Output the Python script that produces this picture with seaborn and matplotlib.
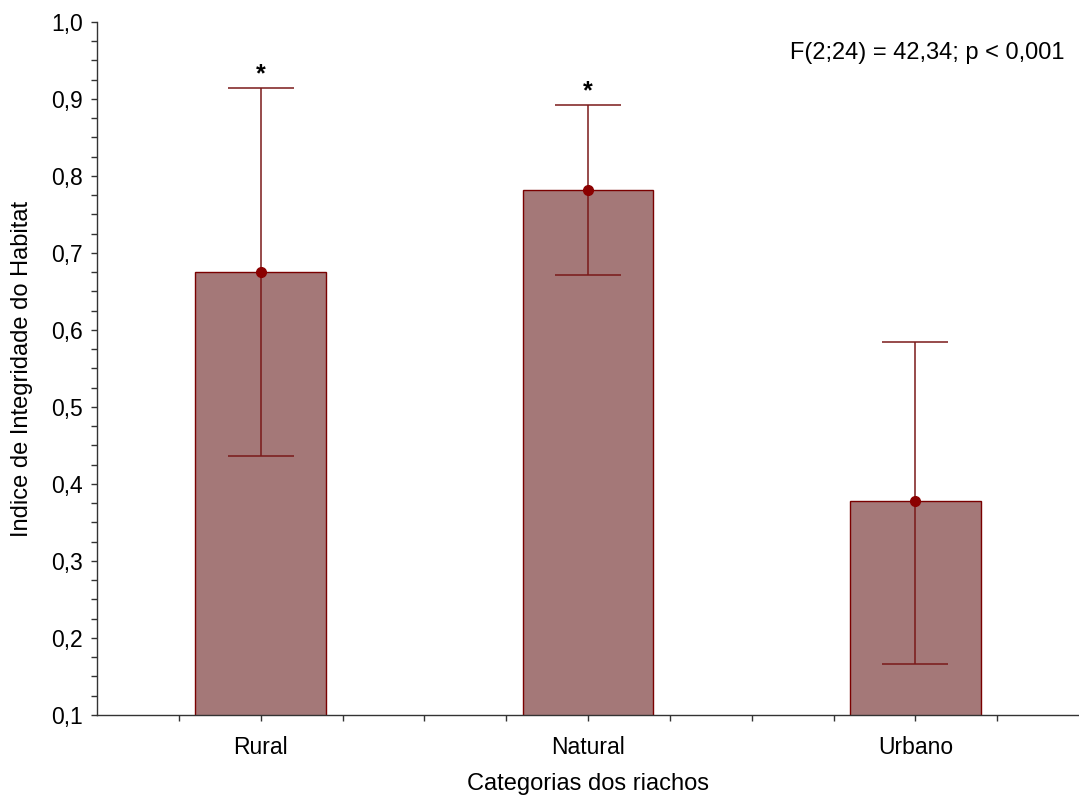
import numpy as np
import pandas as pd
import matplotlib
matplotlib.use('Agg')
import matplotlib.pyplot as plt
import seaborn as sns

# dados
categorias = ['Rural', 'Natural', 'Urbano']
medias = [0.675, 0.782, 0.378]
limite_inf = [0.437, 0.671, 0.166]
limite_sup = [0.914, 0.892, 0.584]
asterisco = ['*', '*', '']
texto_anova = 'F(2;24) = 42,34; p < 0,001'

sns.set_style('ticks')
plt.rcParams['font.family'] = ['Liberation Sans', 'DejaVu Sans']
plt.rcParams['text.color'] = 'black'
plt.rcParams['axes.labelcolor'] = 'black'

df = pd.DataFrame({'categoria': categorias, 'media': medias})

fig = plt.figure(figsize=(10.79, 7.97), dpi=100)
ax = fig.add_axes([0.0899, 0.1029, 0.9101, 0.8695])

sns.barplot(data=df, x='categoria', y='media', order=categorias, ax=ax,
            color='#a47878', width=0.4, saturation=1,
            edgecolor='#7a0000', linewidth=1.0)

# barras de erro (assimetricas)
pos = np.arange(len(categorias))
err = [np.array(medias) - np.array(limite_inf), np.array(limite_sup) - np.array(medias)]
ax.errorbar(pos, medias, yerr=err, fmt='o', color='#8b0000', ecolor='#7a1a1a',
            elinewidth=1.1, capsize=24, capthick=1.1, markersize=7, zorder=5)

for i, s in enumerate(asterisco):
    if s:
        ax.text(pos[i], limite_sup[i] + 0.002, s, ha='center', va='bottom',
                fontsize=18, fontweight='bold')

ax.text(0.985, 0.955, texto_anova, transform=ax.transAxes, ha='right', va='center', fontsize=17)

ax.set_xlim(-0.5, 2.5)
ax.set_ylim(0.1, 1.0)
ax.set_yticks(np.arange(0.1, 1.01, 0.1))
ax.set_yticklabels([f'{v:.1f}'.replace('.', ',') for v in np.arange(0.1, 1.01, 0.1)])
ax.set_yticks(np.arange(0.1, 1.0, 0.025), minor=True)
ax.set_xticks(pos)
ax.set_xticklabels(categorias)
ax.set_xticks(np.arange(-0.25, 2.5, 0.25), minor=True)
ax.tick_params(axis='both', which='both', direction='out', length=4, width=1, colors='#333333',
               labelsize=16.5, labelcolor='black')
ax.tick_params(axis='y', pad=6)
ax.tick_params(axis='x', pad=11)

ax.set_xlabel('Categorias dos riachos', fontsize=17, labelpad=10)
ax.set_ylabel('Indice de Integridade do Habitat', fontsize=17, labelpad=13)

sns.despine(ax=ax)
for sp in ['left', 'bottom']:
    ax.spines[sp].set_color('#333333')
    ax.spines[sp].set_linewidth(1.0)

fig.savefig('out.png', dpi=100)
